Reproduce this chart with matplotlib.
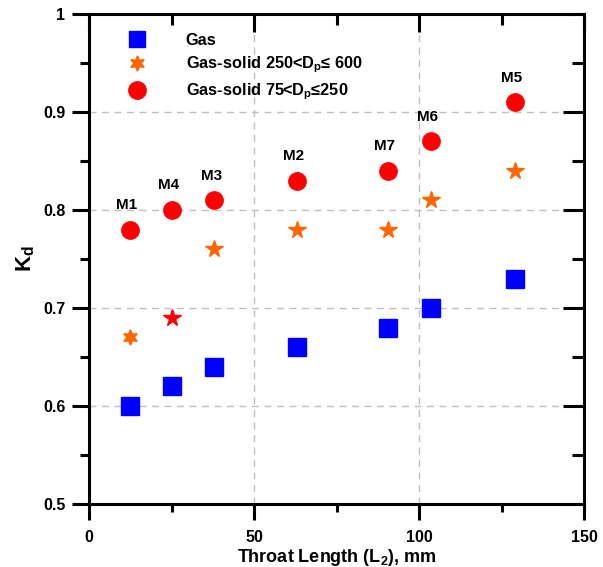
import matplotlib
matplotlib.use("Agg")
import matplotlib.pyplot as plt
from matplotlib.lines import Line2D

plt.rcParams['font.family'] = ['Liberation Sans', 'DejaVu Sans']
plt.rcParams['mathtext.fontset'] = 'custom'
plt.rcParams['mathtext.rm'] = 'Liberation Sans:bold'
plt.rcParams['mathtext.bf'] = 'Liberation Sans:bold'
plt.rcParams['mathtext.it'] = 'Liberation Sans:bold'

# Throat length (mm) of models M1..M7
models = ["M1", "M4", "M3", "M2", "M7", "M6", "M5"]
throat_len = [12.5, 25, 38, 63, 90.5, 103.5, 129]
kd_gas = [0.60, 0.62, 0.64, 0.66, 0.68, 0.70, 0.73]
kd_coarse = [0.67, 0.69, 0.76, 0.78, 0.78, 0.81, 0.84]   # 250<Dp<=600
kd_fine = [0.78, 0.80, 0.81, 0.83, 0.84, 0.87, 0.91]     # 75<Dp<=250

x_major = [0, 50, 100, 150]
x_minor = [25, 75, 125]
y_major = [0.5, 0.6, 0.7, 0.8, 0.9, 1.0]
y_labels = ["0.5", "0.6", "0.7", "0.8", "0.9", "1"]
y_minor = [0.55, 0.65, 0.75, 0.85, 0.95]

blue = "#0000ff"
orange = "#ff6600"
red = "#ff0000"
hexagram = (6, 1, 0)
lw = 2.2

fig = plt.figure(figsize=(6.03, 5.67), dpi=100)
L, B, W, H = 0.1476, 0.1111, 0.8209, 0.8642
ax = fig.add_axes([L, B, W, H])

ax.grid(True, which='major', linestyle=(0, (5, 4)), color='#c0c0c0', linewidth=1)

ax.plot(throat_len, kd_gas, 's', color=blue, markersize=12.5, linestyle='none')
# coarse particles: first point hexagram, second a red star, rest orange stars
ax.plot(throat_len[0], kd_coarse[0], marker=hexagram, color=orange, markersize=11, linestyle='none')
ax.plot(throat_len[1], kd_coarse[1], marker='*', color=red, markersize=13, linestyle='none')
ax.plot(throat_len[2:], kd_coarse[2:], '*', color=orange, markersize=13, linestyle='none')
ax.plot(throat_len, kd_fine, 'o', color=red, markersize=12.5, linestyle='none')

for x, y, m in zip(throat_len, kd_fine, models):
    ax.text(x - 1, y + 0.018, m, ha='center', va='bottom', fontsize=11, fontweight='bold')

ax.set_xlim(0, 150)
ax.set_ylim(0.5, 1.0)
ax.set_xticks(x_major)
ax.set_xticks(x_minor, minor=True)
ax.set_yticks(y_major)
ax.set_yticklabels(y_labels)
ax.set_yticks(y_minor, minor=True)
ax.tick_params(axis='x', which='major', length=11.5, width=lw, color='black', labelsize=11.5, pad=7.5)
ax.tick_params(axis='x', which='minor', length=6, width=lw, color='black')
ax.tick_params(axis='y', which='major', length=12, width=lw, color='black', labelsize=11.5, pad=5)
ax.tick_params(axis='y', which='minor', length=6.5, width=lw, color='black')
for lab in ax.get_xticklabels() + ax.get_yticklabels():
    lab.set_fontweight('bold')
for s in ax.spines.values():
    s.set_linewidth(lw)

# inward ticks on top and right: thin helper axes sitting on those spines
ax_top = fig.add_axes([L, B + H, W, 0.01], frameon=False)
ax_top.set_xlim(0, 150)
ax_top.set_xticks(x_major)
ax_top.set_xticks(x_minor, minor=True)
ax_top.set_yticks([])
ax_top.tick_params(axis='x', which='major', length=13, width=lw, color='black', labelbottom=False)
ax_top.tick_params(axis='x', which='minor', length=8, width=lw, color='black')

ax_right = fig.add_axes([L + W, B, 0.01, H], frameon=False)
ax_right.set_ylim(0.5, 1.0)
ax_right.set_yticks(y_major)
ax_right.set_yticks(y_minor, minor=True)
ax_right.set_xticks([])
ax_right.tick_params(axis='y', which='major', length=15, width=lw, color='black', labelleft=False)
ax_right.tick_params(axis='y', which='minor', length=8.5, width=lw, color='black')

ax.set_xlabel("Throat Length (L$_2$), mm", fontsize=13, fontweight='bold', labelpad=1)
ax.set_ylabel("K$_d$", fontsize=16, fontweight='bold', labelpad=4)

handles = [
    Line2D([], [], marker='s', color=blue, markersize=12, linestyle='none'),
    Line2D([], [], marker=hexagram, color=orange, markersize=11, linestyle='none'),
    Line2D([], [], marker='o', color=red, markersize=12.5, linestyle='none'),
]
labels = ["Gas", "Gas-solid 250<D$_p$\u2264 600", "Gas-solid 75<D$_p$\u2264250"]
ax.legend(handles, labels, loc='upper left', frameon=False,
          prop={'size': 11.8, 'weight': 'bold'},
          handletextpad=2.0, labelspacing=0.4, borderaxespad=0.0,
          bbox_to_anchor=(0.05, 0.975))

fig.savefig("out.png", dpi=100)
